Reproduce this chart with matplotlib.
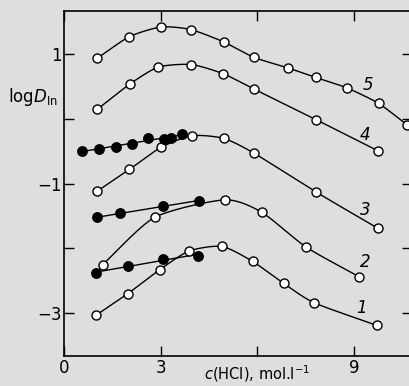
import matplotlib

matplotlib.use("Agg")
import matplotlib.pyplot
import matplotlib.transforms
import numpy

# open symbols: log D(In) vs. c(HCl) for the five systems
C_1 = [0.99, 1.97, 2.96, 3.88, 4.90, 5.85, 6.82, 7.77, 9.72]
LOGD_1 = [-3.03, -2.70, -2.33, -2.04, -1.97, -2.20, -2.54, -2.84, -3.19]
C_2 = [1.19, 2.81, 4.98, 6.13, 7.52, 9.17]
LOGD_2 = [-2.25, -1.52, -1.25, -1.44, -1.98, -2.44]
C_3 = [1.01, 2.02, 3.00, 3.96, 4.95, 5.90, 7.83, 9.75]
LOGD_3 = [-1.12, -0.78, -0.44, -0.26, -0.30, -0.53, -1.13, -1.69]
C_4 = [1.03, 2.04, 2.92, 3.94, 4.93, 5.90, 7.82, 9.74]
LOGD_4 = [0.15, 0.54, 0.80, 0.84, 0.70, 0.46, -0.01, -0.49]
C_5 = [1.03, 2.02, 3.01, 3.93, 4.95, 5.90, 6.94, 7.82, 8.78, 9.77, 10.65]
LOGD_5 = [0.94, 1.27, 1.42, 1.38, 1.19, 0.95, 0.79, 0.64, 0.48, 0.24, -0.09]

# filled symbols
C_A = [0.54, 1.07, 1.60, 2.10, 2.61, 3.09, 3.33, 3.67]
LOGD_A = [-0.50, -0.46, -0.43, -0.38, -0.30, -0.31, -0.29, -0.23]
C_B = [1.00, 1.73, 3.07, 4.18]
LOGD_B = [-1.52, -1.46, -1.35, -1.26]
C_C = [0.98, 1.99, 3.06, 4.14]
LOGD_C = [-2.38, -2.27, -2.16, -2.11]

CURVE_NAMES = ["1", "2", "3", "4", "5"]
X_TICKS = [0, 3, 6, 9]
X_TICKLABELS = ["0", "3", "", "9"]
Y_TICKS = [1, 0, -1, -2, -3]
Y_TICKLABELS = ["1", "", "\u22121", "", "\u22123"]

BG = "#dedede"


def cardinal(x, y, tension=0.35, steps=24):
    # cardinal spline through the points (tension=0.5 is Catmull-Rom)
    pts = numpy.column_stack([x, y]).astype(float)
    pts = numpy.vstack([2 * pts[0] - pts[1], pts, 2 * pts[-1] - pts[-2]])
    t = numpy.linspace(0, 1, steps, endpoint=False)[:, None]
    h00 = 2 * t**3 - 3 * t**2 + 1
    h10 = t**3 - 2 * t**2 + t
    h01 = -2 * t**3 + 3 * t**2
    h11 = t**3 - t**2
    out = []
    for i in range(1, len(pts) - 2):
        p0, p1, p2, p3 = pts[i - 1], pts[i], pts[i + 1], pts[i + 2]
        m1 = tension * (p2 - p0)
        m2 = tension * (p3 - p1)
        out.append(h00 * p1 + h10 * m1 + h01 * p2 + h11 * m2)
    out.append(pts[-2][None, :])
    out = numpy.vstack(out)
    return out[:, 0], out[:, 1]


def main():
    matplotlib.rcParams["font.family"] = "DejaVu Sans"
    matplotlib.rcParams["mathtext.fontset"] = "dejavusans"
    fig = matplotlib.pyplot.figure(figsize=(4.10, 3.86), dpi=100, facecolor=BG)
    ax = fig.add_axes([0.157, 0.078, 0.848, 0.894])
    ax.set_facecolor(BG)

    open_style = dict(
        marker="o",
        markersize=6.5,
        markerfacecolor="white",
        markeredgecolor="black",
        markeredgewidth=1.0,
        linestyle="none",
        zorder=4,
    )
    filled_style = dict(
        marker="o",
        markersize=6.8,
        markerfacecolor="black",
        markeredgecolor="black",
        linestyle="none",
        zorder=5,
    )

    for cx, ly in [(C_1, LOGD_1), (C_2, LOGD_2), (C_3, LOGD_3), (C_4, LOGD_4), (C_5, LOGD_5)]:
        sx, sy = cardinal(cx, ly)
        ax.plot(sx, sy, color="black", linewidth=1.0, zorder=3)
        ax.plot(cx, ly, **open_style)

    for cx, ly in [(C_A, LOGD_A), (C_B, LOGD_B), (C_C, LOGD_C)]:
        k, d = numpy.polyfit(cx, ly, 1)
        xx = numpy.array([min(cx), max(cx)])
        ax.plot(xx, k * xx + d, color="black", linewidth=1.0, zorder=3)
        ax.plot(cx, ly, **filled_style)

    label_pos = [(9.25, -2.92), (9.35, -2.21), (9.35, -1.41), (9.35, -0.25), (9.45, 0.53)]
    for name, (lx, ly) in zip(CURVE_NAMES, label_pos):
        ax.text(lx, ly, name, fontsize=12, style="italic", ha="center", va="center")

    ax.set_xlim(0, 10.81)
    ax.set_ylim(-3.66, 1.67)
    ax.set_xticks(X_TICKS)
    ax.set_xticklabels(X_TICKLABELS)
    ax.set_yticks(Y_TICKS)
    ax.set_yticklabels(Y_TICKLABELS)
    ax.tick_params(
        direction="in",
        length=7.5,
        width=1.0,
        top=True,
        right=True,
        labelsize=12,
        pad=2,
    )
    for spine in ax.spines.values():
        spine.set_linewidth(1.2)

    ax.set_xlabel("$c$(HCl), mol.l$^{-1}$", fontsize=10.5)
    ax.xaxis.set_label_coords(6, -0.022, transform=ax.get_xaxis_transform())
    fig.text(8 / 410, 1 - 97 / 386, "log$D_{\\mathrm{In}}$", fontsize=12, ha="left", va="center")

    fig.savefig("out.png", dpi=100, facecolor=BG)
    matplotlib.pyplot.close(fig)


if __name__ == "__main__":
    main()
